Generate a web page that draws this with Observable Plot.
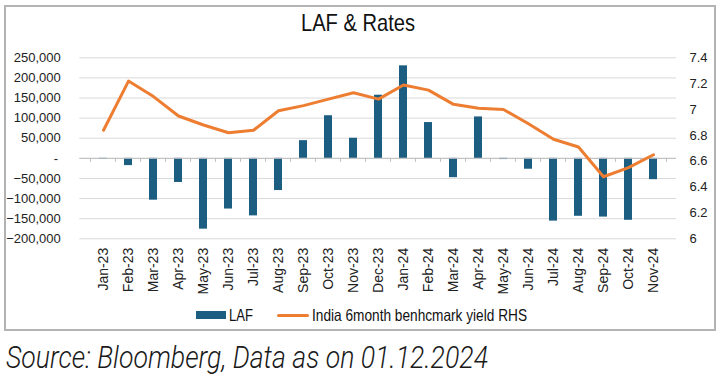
<!DOCTYPE html>
<html>
<head>
<meta charset="utf-8">
<script src="https://cdn.jsdelivr.net/npm/d3@7"></script>
<script src="https://cdn.jsdelivr.net/npm/@observablehq/plot@0.6"></script>
<style>
  html, body { margin: 0; padding: 0; background: #fff; }
  body { width: 724px; height: 382px; position: relative; overflow: hidden; font-family: "Liberation Sans", Arial, sans-serif; }
  #box { position: absolute; left: 4px; top: 5px; width: 712px; height: 326px; box-sizing: border-box; border: 2px solid #b3b3b3; }
  .fit { position: absolute; white-space: nowrap; transform-origin: 0 50%; }
  #title { top: 11px; font-family: "Liberation Sans", sans-serif; font-size: 24px; line-height: 24px; color: #111; }
  #chart { position: absolute; left: 0; top: 40px; }
  .leg { top: 307px; font-family: "Liberation Sans", sans-serif; font-size: 16.5px; line-height: 17px; color: #111; }
  .sw-bar { position: absolute; left: 196px; top: 311px; width: 30px; height: 8px; background: #1c5d82; }
  .sw-line { position: absolute; left: 277px; top: 313.5px; width: 32px; height: 3px; background: #ED7D31; border-radius: 2px; }
  #source { top: 343px; font-family: Roboto, "Liberation Sans", sans-serif; font-weight: 300; font-style: italic; font-size: 30.5px; line-height: 30.5px; color: #1a1a1a; }
</style>
</head>
<body>
<div id="box"></div>
<div id="title" class="fit" data-x="301" data-w="114">LAF &amp; Rates</div>
<div id="chart"></div>
<div class="sw-bar"></div>
<div class="leg fit" data-x="229" data-w="24">LAF</div>
<div class="sw-line"></div>
<div class="leg fit" data-x="312" data-w="215">India 6month benhcmark yield RHS</div>
<div id="source" class="fit" data-x="6" data-w="482">Source: Bloomberg, Data as on 01.12.2024</div>
<script>
const months = ["Jan-23","Feb-23","Mar-23","Apr-23","May-23","Jun-23","Jul-23","Aug-23","Sep-23","Oct-23","Nov-23","Dec-23",
                "Jan-24","Feb-24","Mar-24","Apr-24","May-24","Jun-24","Jul-24","Aug-24","Sep-24","Oct-24","Nov-24"];
const laf = [-2000, -18000, -104000, -60000, -176000, -126000, -143000, -80000, 44000, 106000, 50000, 157000,
             230000, 89000, -48000, 103000, -3000, -27000, -156000, -144000, -146000, -154000, -53000];
const yieldRHS = [6.84, 7.22, 7.10, 6.95, 6.88, 6.82, 6.84, 6.99, 7.03, 7.08, 7.13, 7.08,
                  7.19, 7.15, 7.04, 7.01, 7.00, 6.89, 6.77, 6.71, 6.48, 6.55, 6.65];
const leftTicks = [-200000, -150000, -100000, -50000, 0, 50000, 100000, 150000, 200000, 250000];
const rightTicks = [6, 6.2, 6.4, 6.6, 6.8, 7, 7.2, 7.4];

const data = months.map((m, i) => ({month: m, laf: laf[i], yld: yieldRHS[i]}));

// map right-axis values onto the left scale's domain
const L0 = leftTicks[0], L1 = leftTicks[leftTicks.length - 1];
const R0 = rightTicks[0], R1 = rightTicks[rightTicks.length - 1];
const toLeft = v => L0 + (v - R0) * (L1 - L0) / (R1 - R0);
const fromLeft = d => R0 + (d - L0) * (R1 - R0) / (L1 - L0);

const fmt = d3.format(",");
const W = 724, H = 260, ML = 79.3, MR = 48;
const step = (W - ML - MR) / months.length;

const chart = Plot.plot({
  width: W, height: H,
  marginTop: 17.3, marginBottom: 61.7, marginLeft: ML, marginRight: MR,
  style: {fontFamily: "'Liberation Sans', Arial, sans-serif", fontSize: "13px", color: "#222", background: "transparent", overflow: "visible"},
  x: {type: "band", domain: months, paddingInner: 0.67, paddingOuter: 0.335, label: null},
  y: {domain: [L0, L1], label: null},
  marks: [
    Plot.gridY(leftTicks, {stroke: "#d9d9d9", strokeOpacity: 1}),
    Plot.barY(data, {x: "month", y: "laf", fill: "#1c5d82"}),
    Plot.ruleY([0], {stroke: "#bfbfbf"}),
    Plot.ruleX(months, {x: d => d, y1: 0, y2: -10000, dx: -step / 2, stroke: "#bfbfbf"}),
    Plot.ruleX(months.slice(-1), {x: d => d, y1: 0, y2: -10000, dx: step / 2, stroke: "#bfbfbf"}),
    Plot.lineY(data, {x: "month", y: d => toLeft(d.yld), stroke: "#ED7D31", strokeWidth: 3, strokeLinejoin: "round", strokeLinecap: "round"}),
    Plot.axisY(leftTicks, {anchor: "left", tickSize: 0, tickPadding: 19, tickFormat: d => d === 0 ? "-\u2009" : fmt(d)}),
    Plot.axisY(rightTicks.map(toLeft), {anchor: "right", tickSize: 0, tickPadding: 13, tickFormat: d => String(Math.round(fromLeft(d) * 10) / 10)}),
    Plot.axisX({anchor: "bottom", tickRotate: -90, tickSize: 0, tickPadding: 9, fontSize: 14})
  ]
});
document.getElementById("chart").appendChild(chart);

// fit condensed-looking texts to their measured widths in the reference
document.querySelectorAll(".fit").forEach(el => {
  el.style.left = el.dataset.x + "px";
  const w = el.getBoundingClientRect().width;
  el.style.transform = `scaleX(${(+el.dataset.w / w).toFixed(4)})`;
});
</script>
</body>
</html>
